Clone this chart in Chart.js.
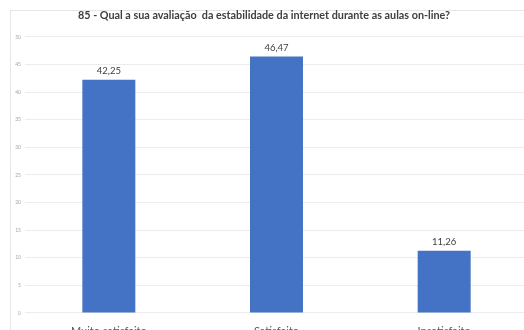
<!DOCTYPE html>
<html><head><meta charset="utf-8">
<script src="https://cdn.jsdelivr.net/npm/chart.js@4.4.1/dist/chart.umd.min.js"></script>
<style>
html,body{margin:0;padding:0;overflow:hidden;background:#fff;width:524px;height:330px}
#wrap{position:absolute;left:0;top:0;width:528px;height:345px}
#frame{position:absolute;left:10px;top:10px;width:600px;height:400px;border:1px solid #e6e6e6;box-sizing:border-box}
</style></head>
<body>
<div id="frame"></div>
<div id="wrap"><canvas id="c" width="528" height="345"></canvas></div>
<script>
const titleText = "85 - Qual a sua avaliação  da estabilidade da internet durante as aulas on-line?";
const categories = ["Muito satisfeito", "Satisfeito", "Insatisfeito"];
const values = [42.25, 46.47, 11.26];
const valueLabels = ["42,25", "46,47", "11,26"];
const yTicks = [0,5,10,15,20,25,30,35,40,45,50];

const dataLabels = {
  id:'dataLabels',
  afterDatasetsDraw(chart){
    const ctx = chart.ctx;
    const meta = chart.getDatasetMeta(0);
    ctx.save();
    ctx.font = '9.5px Lato';
    ctx.fillStyle = '#404040';
    ctx.textAlign = 'center';
    ctx.textBaseline = 'bottom';
    meta.data.forEach((bar,i)=>{
      ctx.fillText(valueLabels[i], bar.x, bar.y - 4);
    });
    ctx.restore();
  }
};

new Chart(document.getElementById('c'), {
  type:'bar',
  data:{labels:categories, datasets:[{data:values, backgroundColor:'#4472C4', borderWidth:0, barPercentage:0.316, categoryPercentage:1}]},
  options:{
    responsive:false, animation:false, devicePixelRatio:1,
    layout:{padding:{left:0,right:0,top:0,bottom:0}},
    plugins:{
      legend:{display:false}, tooltip:{enabled:false},
      title:{display:true, text:titleText, color:'#404040', font:{family:'Lato', size:10.8, weight:'bold', lineHeight:1.2}, padding:{top:9.5,bottom:14.5}}
    },
    scales:{
      x:{
        grid:{display:false, drawTicks:false}, border:{display:false},
        ticks:{color:'#595959', font:{family:'Lato', size:11}, padding:12, maxRotation:0},
        afterFit(s){ s.height = 32; }
      },
      y:{
        min:0, max:50,
        afterBuildTicks(s){ s.ticks = yTicks.map(v=>({value:v})); },
        grid:{color:'#ececec', drawTicks:false}, border:{display:false},
        ticks:{color:'#a6a6a6', font:{family:'Lato', size:5}, padding:4},
        afterFit(s){ s.width = 25; }
      }
    }
  },
  plugins:[dataLabels]
});
</script>
</body></html>
